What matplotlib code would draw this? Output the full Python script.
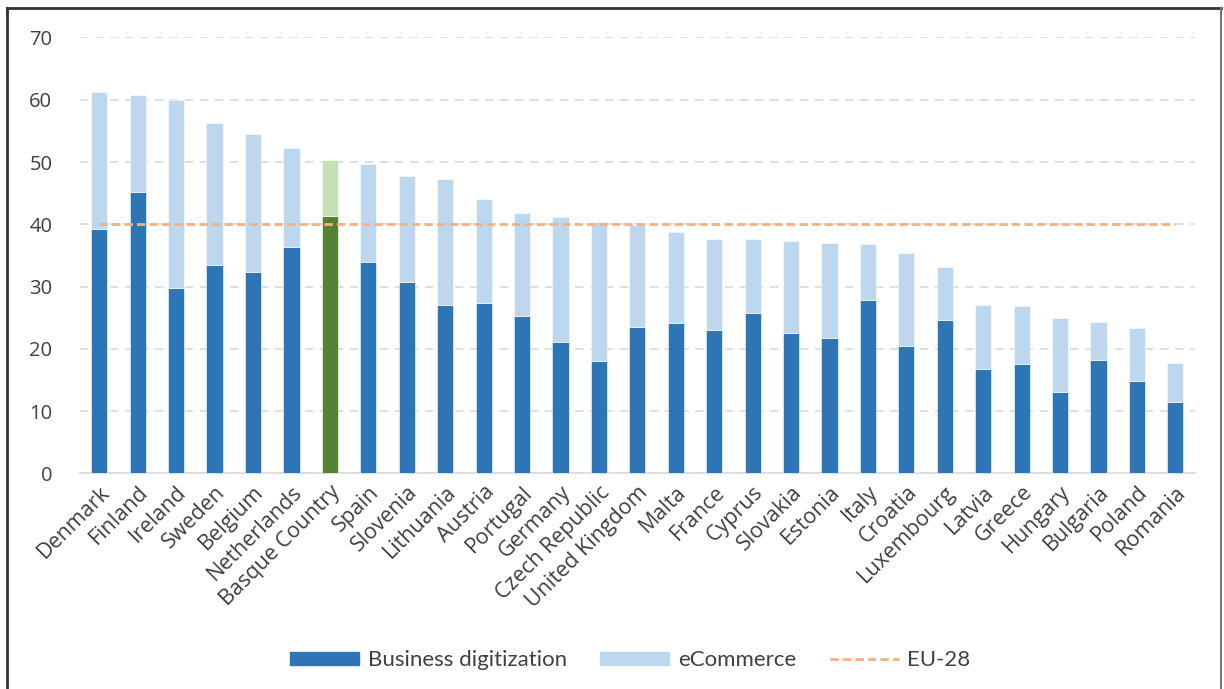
import numpy as np
import matplotlib.pyplot as plt
from matplotlib.lines import Line2D
from matplotlib.patches import Patch

countries = ["Denmark", "Finland", "Ireland", "Sweden", "Belgium", "Netherlands",
             "Basque Country", "Spain", "Slovenia", "Lithuania", "Austria", "Portugal",
             "Germany", "Czech Republic", "United Kingdom", "Malta", "France", "Cyprus",
             "Slovakia", "Estonia", "Italy", "Croatia", "Luxembourg", "Latvia", "Greece",
             "Hungary", "Bulgaria", "Poland", "Romania"]
business = [39.2, 45.2, 29.7, 33.4, 32.4, 36.3, 41.4, 33.9, 30.7, 27.1, 27.4, 25.2,
            21.1, 18.0, 23.5, 24.2, 23.0, 25.7, 22.5, 21.7, 27.9, 20.4, 24.6, 16.7,
            17.6, 13.0, 18.2, 14.8, 11.4]
total = [61.2, 60.8, 60.0, 56.3, 54.5, 52.3, 50.3, 49.7, 47.8, 47.3, 44.0, 41.8,
         41.2, 40.3, 39.9, 38.8, 37.7, 37.6, 37.3, 37.0, 36.8, 35.4, 33.1, 27.0,
         26.9, 25.0, 24.3, 23.4, 17.7]
eu28 = 40.0
highlight = "Basque Country"

business = np.array(business)
ecommerce = np.array(total) - business
x = np.arange(len(countries))

dark_c = ["#548235" if c == highlight else "#2E75B6" for c in countries]
light_c = ["#C5E0B4" if c == highlight else "#BDD7EE" for c in countries]

plt.rcParams['font.family'] = ['Open Sans', 'DejaVu Sans']
fig = plt.figure(figsize=(12.24, 6.89), dpi=100)
ax = fig.add_axes([0.0654, 0.313, 0.9106, 0.6326])

ax.bar(x, business, width=0.42, color=dark_c, edgecolor="white", linewidth=0.4, zorder=3)
ax.bar(x, ecommerce, bottom=business, width=0.42, color=light_c, edgecolor="white", linewidth=0.4, zorder=3)
ax.plot(x, [eu28] * len(x), color="#F4B183", linestyle=(0, (3, 1.5)), linewidth=2, zorder=4)

ax.set_xlim(-0.5, len(x) - 0.5)
ax.set_ylim(0, 70)
ax.set_yticks(range(0, 71, 10))
ax.yaxis.grid(True, color="#D9D9D9", linestyle=(0, (5, 4)), linewidth=1.2, zorder=0)
for s in ["top", "right", "left"]:
    ax.spines[s].set_visible(False)
ax.spines["bottom"].set_color("#D9D9D9")
ax.spines["bottom"].set_linewidth(1.2)
ax.tick_params(axis="both", length=0, colors="#404040", labelsize=14.5)
ax.tick_params(axis="y", pad=20)
ax.tick_params(axis="x", pad=6)
ax.set_xticks(x)
ax.set_xticklabels(countries, rotation=45, ha="right", rotation_mode="anchor", fontsize=15.5)

handles = [Patch(color="#2E75B6", label="Business digitization"),
           Patch(color="#BDD7EE", label="eCommerce"),
           Line2D([0], [0], color="#F4B183", linestyle=(0, (3, 1.5)), linewidth=2, label="EU-28")]
fig.legend(handles=handles, loc="center", bbox_to_anchor=(0.515, 0.042), ncol=3,
           frameon=False, handlelength=3.1, handleheight=0.55,
           handletextpad=0.4, columnspacing=1.5, labelcolor="#404040",
           prop={'family': ['Lato', 'DejaVu Sans'], 'size': 16})

# outer frame (no bottom edge)
fc = "#333333"
fig.add_artist(Line2D([0.0057, 0.0057], [0, 0.988], color=fc, linewidth=2, transform=fig.transFigure))
fig.add_artist(Line2D([0.0057, 0.9975], [0.988, 0.988], color=fc, linewidth=2, transform=fig.transFigure))
fig.add_artist(Line2D([0.9975, 0.9975], [0, 0.988], color="#777777", linewidth=1.5, transform=fig.transFigure))

fig.savefig("out.png", dpi=100)
